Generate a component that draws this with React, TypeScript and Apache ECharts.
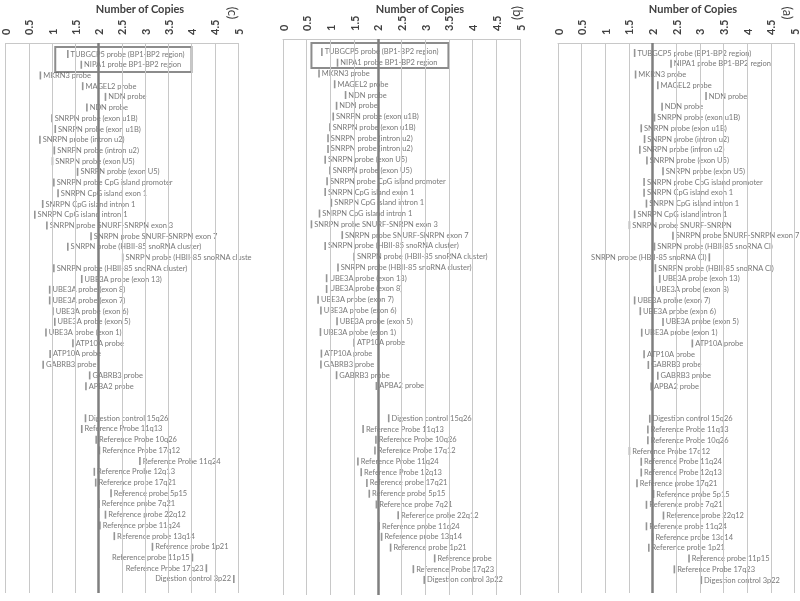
import React, { useEffect, useRef } from "react";
import * as echarts from "echarts";

// Probe names (top to bottom); a 2-slot gap separates the probe block from the controls
const probeNames: string[] = [
  "TUBGCP5 probe (BP1-BP2 region)",
  "NIPA1 probe BP1-BP2 region",
  "MKRN3 probe",
  "MAGEL2 probe",
  "NDN probe",
  "NDN probe",
  "SNRPN probe (exon u1B)",
  "SNRPN probe (exon u1B)",
  "SNRPN probe (intron u2)",
  "SNRPN probe (intron u2)",
  "SNRPN probe (exon U5)",
  "SNRPN probe (exon U5)",
  "SNRPN probe CpG island promoter",
  "SNRPN CpG island exon 1",
  "SNRPN CpG island intron 1",
  "SNRPN CpG island intron 1",
  "SNRPN probe SNURF-SNRPN exon 3",
  "SNRPN probe SNURF-SNRPN exon 7",
  "SNRPN probe (HBII-85 snoRNA cluster)",
  "SNRPN probe (HBII-85 snoRNA cluster)",
  "SNRPN probe (HBII-85 snoRNA cluster)",
  "UBE3A probe (exon 13)",
  "UBE3A probe (exon 8)",
  "UBE3A probe (exon 7)",
  "UBE3A probe (exon 6)",
  "UBE3A probe (exon 5)",
  "UBE3A probe (exon 1)",
  "ATP10A probe",
  "ATP10A probe",
  "GABRB3 probe",
  "GABRB3 probe",
  "APBA2 probe",
  "Digestion control 15q26",
  "Reference Probe 11q13",
  "Reference Probe 10q26",
  "Reference Probe 17q12",
  "Reference Probe 11q24",
  "Reference Probe 12q13",
  "Reference probe 17q21",
  "Reference probe 5p15",
  "Reference probe 7q21",
  "Reference probe 22q12",
  "Reference probe 11q24",
  "Reference probe 13q14",
  "Reference probe 1p21",
  "Reference probe 11p15",
  "Reference Probe 17q23",
  "Digestion control 3p22",
];

const namesOverrideC: Record<number, string> = { 19: "SNRPN probe (HBII-85 snoRNA cluste" };
const namesOverrideB: Record<number, string> = { 45: "Reference probe" };
const namesOverrideA: Record<number, string> = {
  16: "SNRPN probe SNURF-SNRPN",
  18: "SNRPN probe (HBII-85 snoRNA Cl)",
  19: "SNRPN probe (HBII-85 snoRNA Cl)",
  20: "SNRPN probe (HBII-85 snoRNA Cl)",
};

// Copy numbers per panel
const valuesC = [1.34, 1.63, 0.75, 1.66, 2.15, 1.75, 1.0, 1.07, 0.74, 1.05, 1.01, 1.55, 1.04, 1.13, 0.8, 0.63,
  0.89, 1.84, 1.34, 2.52, 1.04, 1.64, 0.95, 0.95, 1.02, 1.06, 0.87, 1.45, 0.96, 0.81, 1.81, 1.73,
  1.72, 1.64, 1.95, 2.02, 2.89, 1.91, 1.94, 2.27, 2.01, 2.15, 2.03, 2.34, 3.16, 4.02, 4.32, 4.91];
const valuesB = [0.82, 1.15, 0.76, 1.09, 1.32, 1.13, 1.06, 0.99, 0.95, 0.95, 0.89, 0.99, 0.93, 0.89, 1.02, 0.77,
  0.6, 1.25, 0.89, 1.5, 1.16, 0.92, 0.92, 0.74, 0.8, 1.14, 0.79, 1.5, 0.81, 0.8, 1.13, 1.97,
  2.23, 1.69, 1.96, 1.94, 1.58, 1.65, 1.77, 1.82, 1.97, 2.43, 2.03, 2.08, 2.27, 3.2, 2.75, 2.98];
const valuesA = [1.62, 2.39, 1.64, 2.11, 3.13, 2.2, 2.04, 1.76, 1.83, 1.73, 1.88, 2.22, 1.82, 1.82, 1.87, 1.62,
  1.51, 2.43, 2.04, 3.2, 2.06, 2.15, 2.01, 1.62, 1.74, 2.22, 1.77, 2.84, 1.82, 1.91, 2.11, 1.97,
  1.94, 1.9, 1.9, 1.51, 1.76, 1.76, 1.67, 2.02, 1.87, 2.23, 1.87, 2.0, 1.92, 2.77, 2.46, 3.03];

// Rows whose label sits to the left of the marker
const leftLabelsC = [45, 46, 47];
const leftLabelsB: number[] = [];
const leftLabelsA = [19];

const panelTags = ["(c)", "(b)", "(a)"];
const axisTitle = "Number of Copies";
const referenceCopies = 2;
const gridTicks = [0, 0.5, 1, 1.5, 2, 2.5, 3, 3.5, 4, 4.5, 5];

const FONT = "Lato, 'Liberation Sans', sans-serif";
const TEXT = "#555555";
const GRID = "#c8c8c8";
const PROBE_BLOCK = 32;
const GAP = 2;

function slotOf(i: number) {
  return i < PROBE_BLOCK ? i : i + GAP;
}

export default function App() {
  const ref = useRef<HTMLDivElement>(null);
  useEffect(() => {
    if (!ref.current) return;
    const chart = echarts.init(ref.current, undefined, { renderer: "svg" });

    const panels = [
      { values: valuesC, over: namesOverrideC, left: leftLabelsC, grid: { left: 5, top: 43, width: 233, height: 550 }, yMin: -1.03, yMax: 50.31, box: [1.07, -0.65, 4.0, 1.68], titleX: 140, tagX: 233 },
      { values: valuesB, over: namesOverrideB, left: leftLabelsB, grid: { left: 283, top: 39, width: 237, height: 556 }, yMin: -1.2, yMax: 50.4, box: [0.6, -0.83, 3.49, 1.48], titleX: 420, tagX: 518 },
      { values: valuesA, over: namesOverrideA, left: leftLabelsA, grid: { left: 558, top: 43, width: 237, height: 550 }, yMin: -0.93, yMax: 50.2, box: null as number[] | null, titleX: 693, tagX: 788 },
    ];

    const series: any[] = [];
    panels.forEach((p, k) => {
      // vertical gridlines at each tick + top border
      series.push({
        type: "line",
        xAxisIndex: k,
        yAxisIndex: k,
        data: [],
        silent: true,
        color: GRID,
        itemStyle: { color: GRID },
        lineStyle: { color: GRID },
        markLine: {
          silent: true,
          symbol: "none",
          label: { show: false },
          lineStyle: { color: GRID, width: 1, type: "solid" },
          emphasis: { disabled: true },
          data: [...gridTicks.map((t) => ({ xAxis: t })), { yAxis: p.yMin }],
        },
      });
      const data = p.values.map((v, i) => {
        const name = p.over[i] ?? probeNames[i];
        const item: any = { value: [v, slotOf(i)], name };
        if (p.left.includes(i)) item.label = { position: "left", color: TEXT };
        return item;
      });
      const s: any = {
        type: "scatter",
        xAxisIndex: k,
        yAxisIndex: k,
        clip: false,
        color: "#7a7a7a",
        symbol: "rect",
        symbolSize: [1.6, 8],
        itemStyle: { color: "#7a7a7a" },
        emphasis: { disabled: true },
        label: {
          show: true,
          position: "right",
          distance: 2,
          formatter: (d: any) => d.name,
          fontSize: 7.5,
          fontFamily: FONT,
          color: TEXT,
          textBorderWidth: 0,
          textBorderColor: "transparent",
        },
        data,
        markLine: {
          silent: true,
          symbol: "none",
          label: { show: false },
          emphasis: { disabled: true },
          lineStyle: { color: "#7f7f7f", width: 2.5, type: "solid" },
          data: [{ xAxis: referenceCopies }],
        },
      };
      if (p.box) {
        s.markArea = {
          silent: true,
          itemStyle: { color: "rgba(0,0,0,0)", borderColor: "#8c8c8c", borderWidth: 2 },
          label: { show: false },
          emphasis: { disabled: true },
          data: [[{ coord: [p.box[0], p.box[1]] }, { coord: [p.box[2], p.box[3]] }]],
        };
      }
      series.push(s);
    });

    const option: any = {
      animation: false,
      color: ["#7a7a7a"],
      textStyle: { color: TEXT, fontFamily: FONT },
      grid: panels.map((p) => ({ ...p.grid })),
      xAxis: panels.map((p, k) => ({
        type: "value",
        gridIndex: k,
        position: "top",
        min: 0,
        max: 5,
        interval: 0.5,
        axisLine: { show: true, onZero: false, lineStyle: { color: GRID, width: 1 } },
        axisTick: { show: false },
        axisLabel: {
          rotate: -90,
          margin: 8,
          fontSize: 11,
          fontWeight: "bold",
          color: "#404040",
          fontFamily: FONT,
          showMinLabel: true,
          showMaxLabel: true,
        },
        splitLine: { show: true, lineStyle: { color: GRID, width: 1 } },
      })),
      yAxis: panels.map((p, k) => ({
        type: "value",
        gridIndex: k,
        inverse: true,
        min: p.yMin,
        max: p.yMax,
        axisLine: { show: false },
        axisTick: { show: false },
        axisLabel: { show: false },
        splitLine: { show: false },
      })),
      graphic: [
        ...panels.map((p) => ({
          type: "text",
          x: p.titleX,
          y: 8,
          style: {
            text: axisTitle,
            textAlign: "center",
            textVerticalAlign: "middle",
            fontSize: 11,
            fontWeight: "bold",
            fontFamily: FONT,
            fill: "#404040",
          },
        })),
        ...panels.map((p, k) => ({
          type: "text",
          x: p.tagX,
          y: 13,
          rotation: -Math.PI / 2,
          style: {
            text: panelTags[k],
            textAlign: "center",
            textVerticalAlign: "middle",
            fontSize: 13,
            fontFamily: FONT,
            fill: "#404040",
          },
        })),
      ],
      series,
    };

    chart.setOption(option);
    return () => chart.dispose();
  }, []);

  return (
    <div
      ref={ref}
      style={{
        position: "fixed",
        left: 0,
        top: 0,
        width: 800,
        height: 601,
        background: "#ffffff",
        filter: "grayscale(1)",
      }}
    />
  );
}
